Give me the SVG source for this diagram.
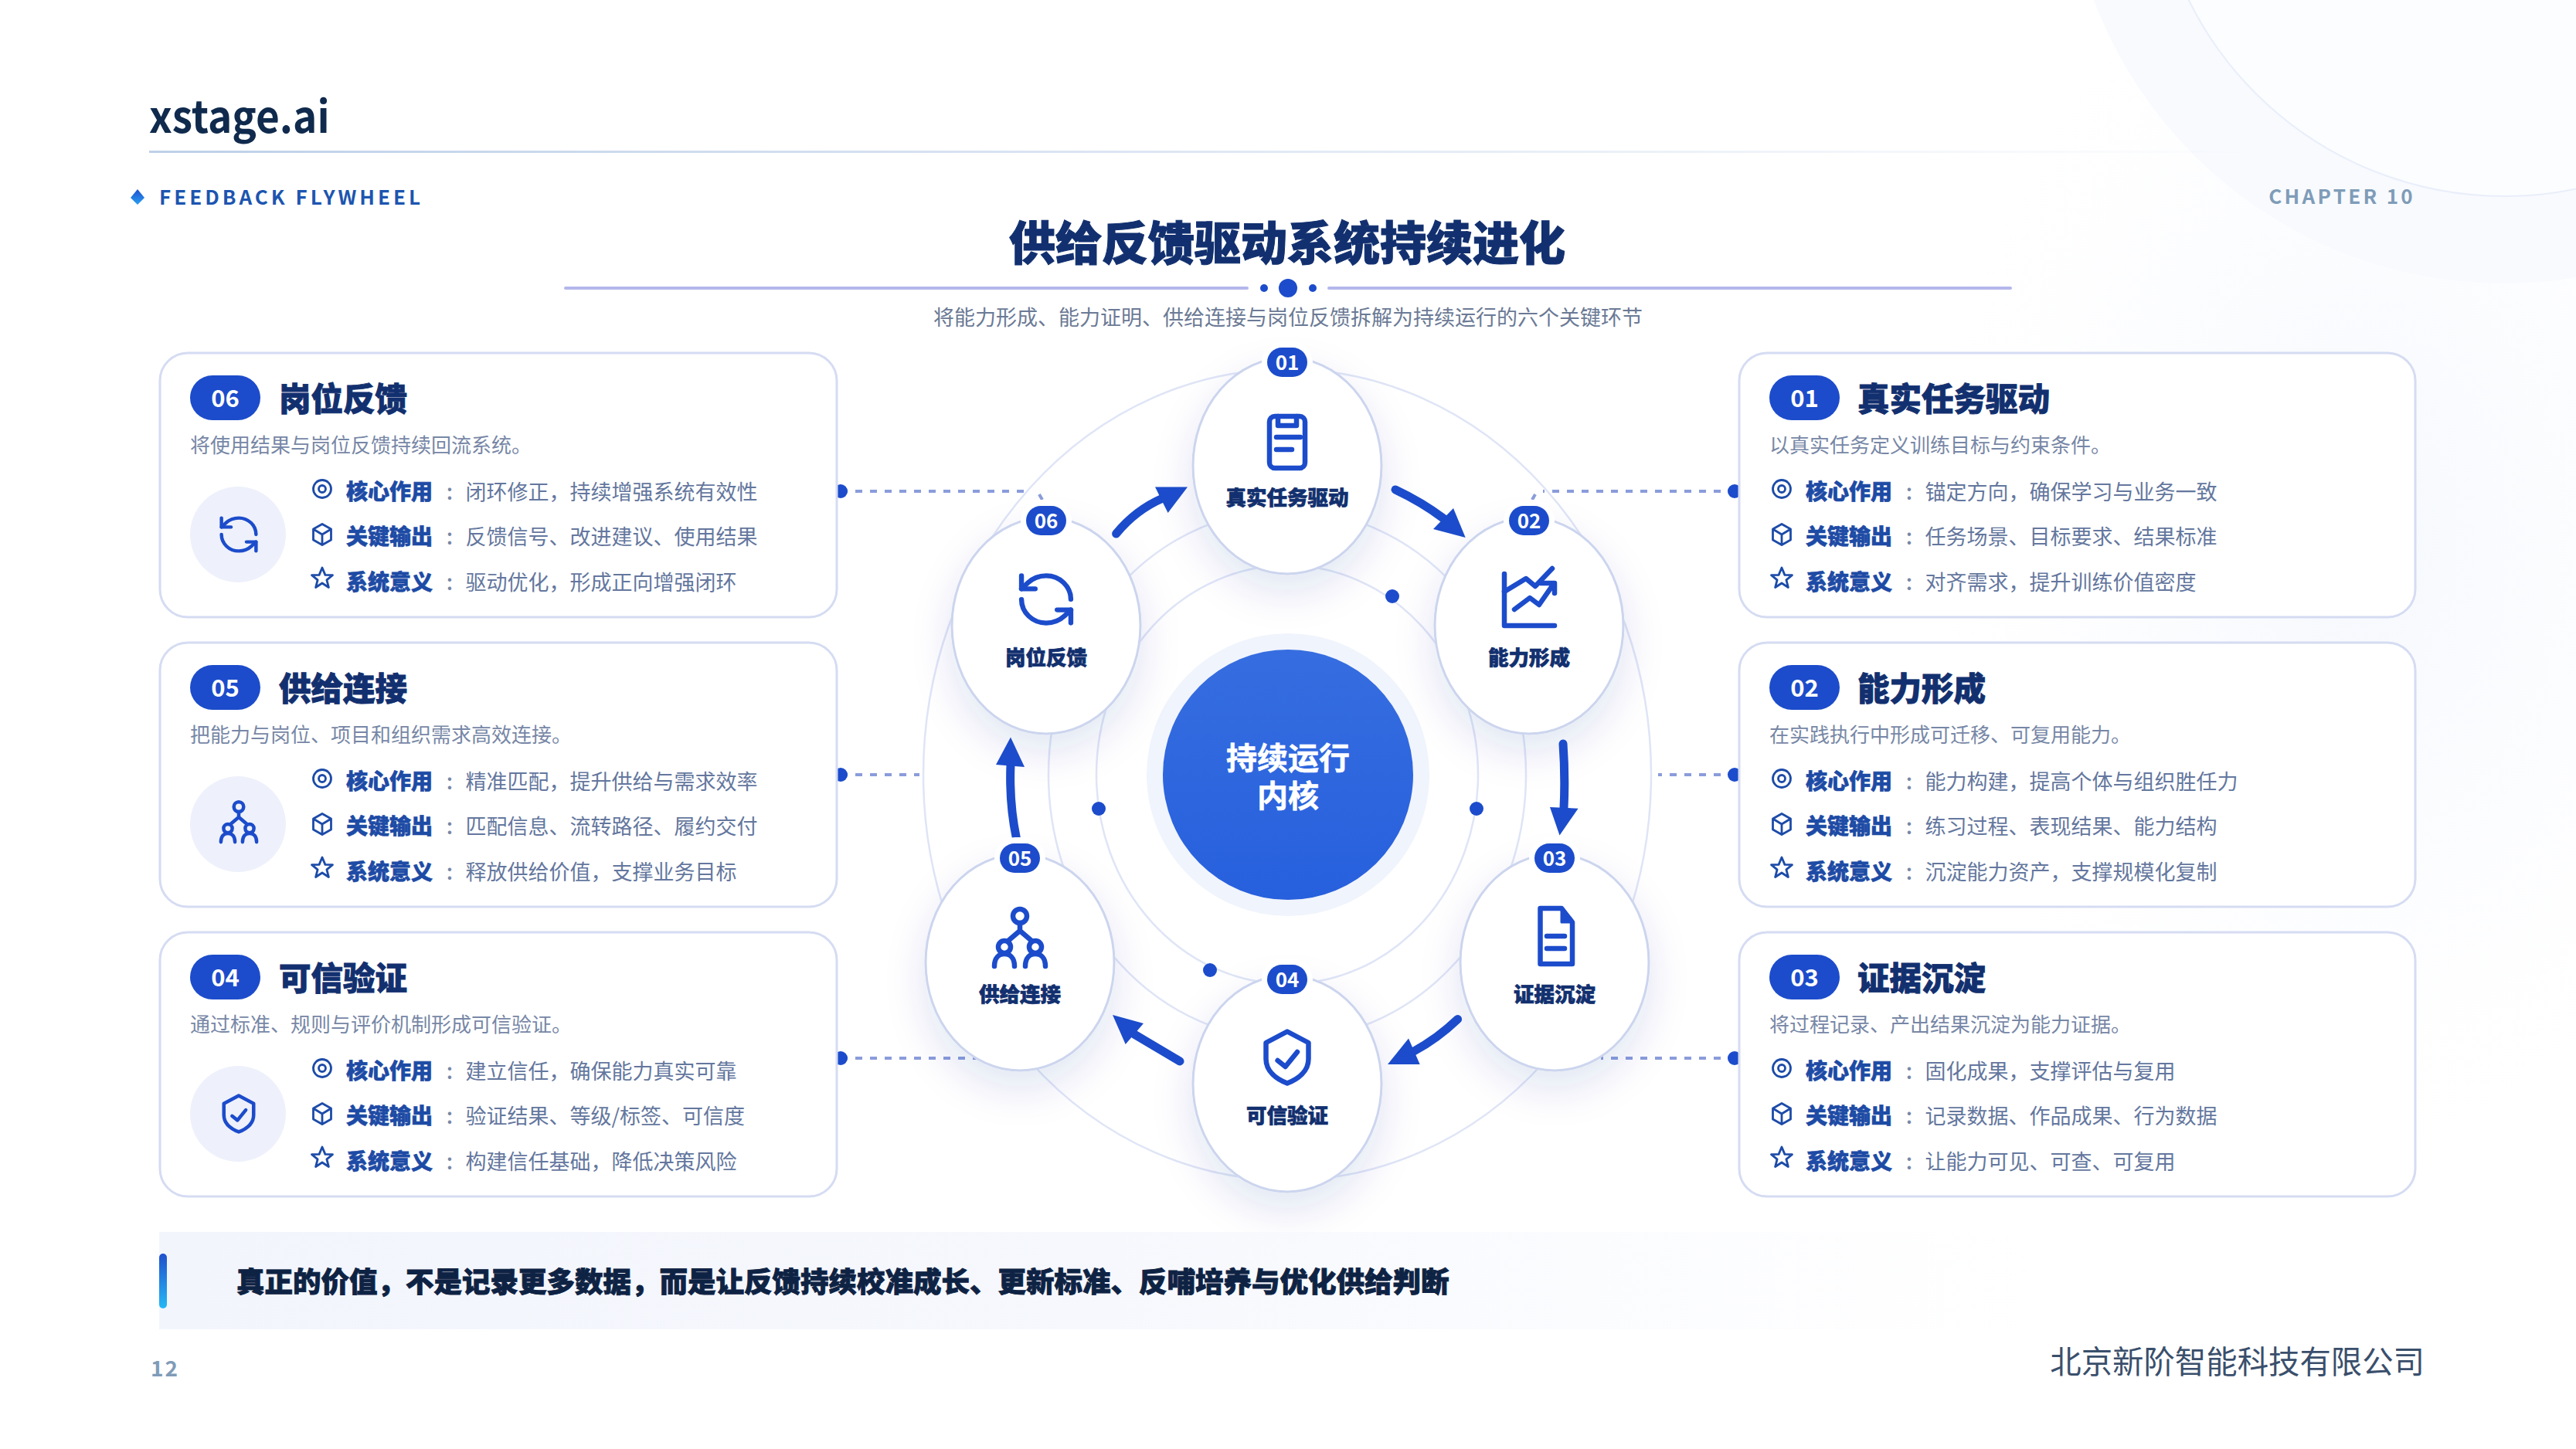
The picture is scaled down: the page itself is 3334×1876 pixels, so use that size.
<svg xmlns="http://www.w3.org/2000/svg" width="3334" height="1876" viewBox="0 0 3334 1876">
<style>
text{font-family:"Noto Sans CJK SC","Noto Sans",sans-serif}
.ct{font-size:41.5px;font-weight:900;fill:#12306f;stroke:#12306f;stroke-width:.9}
.cb{font-size:31px;font-weight:700;fill:#fff;text-anchor:middle}
.cd{font-size:26px;fill:#7787a6}
.rl{font-size:28px;font-weight:900;fill:#1d4ba5;stroke:#1d4ba5;stroke-width:.6}
.rc{font-size:28px;font-weight:500;fill:#7787a6;text-anchor:middle}
.rv{font-size:27px;fill:#64779e}
.nl{font-size:26.5px;font-weight:900;fill:#12306f;stroke:#12306f;stroke-width:.7;text-anchor:middle}
.nb{font-size:26px;font-weight:700;fill:#fff;text-anchor:middle}
.card{fill:#fff;stroke:#d5dcf2;stroke-width:3}
.pill{fill:#1c4ccb}
.halo{fill:#fff}
.node{fill:#fff;stroke:#ccd5ee;stroke-width:3}
.ring{fill:none;stroke:#dfe5f6;stroke-width:2.5}
.dash{fill:none;stroke:#8a9cdb;stroke-width:4;stroke-dasharray:9 10}
.dot{fill:#1c4ccb}
.ic{fill:none;stroke:#1c4ccb;stroke-width:6.5;stroke-linecap:round;stroke-linejoin:round}
.ri{fill:none;stroke:#1c4ba8;stroke-width:2.8;stroke-linejoin:round}
.arr{fill:none;stroke:#1c4ccb;stroke-width:11;stroke-linecap:round}
.head{fill:#1c4ccb}
.ib{fill:#eef1fb}
</style>
<defs>
<linearGradient id="gRule" x1="0" x2="1" y1="0" y2="0"><stop offset="0" stop-color="#bed0e8"/><stop offset="1" stop-color="#bed0e8" stop-opacity="0"/></linearGradient>
<linearGradient id="gDia" x1="0" x2="0" y1="0" y2="1"><stop offset="0" stop-color="#1c4fd0"/><stop offset="1" stop-color="#2aa0f2"/></linearGradient>
<linearGradient id="gBan" x1="0" x2="1" y1="0" y2="0"><stop offset="0" stop-color="#f2f5fc"/><stop offset=".5" stop-color="#f6f8fd"/><stop offset="1" stop-color="#f8fafe" stop-opacity="0"/></linearGradient>
<linearGradient id="gBar" x1="0" x2="0" y1="0" y2="1"><stop offset="0" stop-color="#2150cc"/><stop offset="1" stop-color="#25b8f5"/></linearGradient>
<linearGradient id="gCore" x1="0" x2="0" y1="0" y2="1"><stop offset="0" stop-color="#366de0"/><stop offset="1" stop-color="#2760dd"/></linearGradient>
<radialGradient id="gBg" cx=".5" cy=".5" r=".5"><stop offset="0" stop-color="#f5f8fd"/><stop offset="1" stop-color="#fbfcff" stop-opacity="0"/></radialGradient>
<filter id="sh" x="-50%" y="-50%" width="200%" height="220%"><feDropShadow dx="0" dy="22" stdDeviation="26" flood-color="#1c3c9b" flood-opacity=".12"/></filter>
<g id="i-target"><circle r="11.5"/><circle r="4.5"/></g>
<path id="i-cube" d="M0 -13.5L11.5 -7V7L0 13.5L-11.5 7V-7ZM-11.5 -7L0 0L11.5 -7M0 0V13.5"/>
<path id="i-star" d="M0 -14L3.9 -4.6L13.5 -4.3L5.9 1.9L8.4 11.5L0 6L-8.4 11.5L-5.9 1.9L-13.5 -4.3L-3.9 -4.6Z"/>
<g id="i-sync" class="ic"><g transform="scale(3.55 3.4) translate(-12 -12)" style="stroke-width:1.8"><path d="M21 12a9 9 0 0 0-9-9 9.75 9.75 0 0 0-6.74 2.74L3 8"/><path d="M3 3v5h5"/><path d="M3 12a9 9 0 0 0 9 9 9.75 9.75 0 0 0 6.74-2.74L21 16"/><path d="M16 16h5v5"/></g></g>
<g id="i-net" class="ic"><circle cx="0" cy="-32" r="9"/><path d="M0 -23V-13L-14 -1M0 -13L14 -1"/><circle cx="-20" cy="8" r="8"/><circle cx="20" cy="8" r="8"/><path d="M-33 33C-33 22 -27 17 -20 17S-7 22 -7 33M7 33C7 22 13 17 20 17S33 22 33 33"/></g>
<g id="i-shield" class="ic"><path d="M0 -33.5L27.5 -19V2C27.5 18 14 28 0 33.5C-14 28 -27.5 18 -27.5 2V-19Z"/><path d="M-12.4 4L-2.4 12L13 -7"/></g>
</defs>

<rect width="3334" height="1876" fill="#fff"/>
<g id="background">
<ellipse cx="3050" cy="700" rx="560" ry="800" fill="url(#gBg)"/>
<circle cx="3241" cy="-201" r="568" fill="#f8fafe"/>
<circle cx="3241" cy="-201" r="455" fill="#fcfdff" stroke="#e9eefa" stroke-width="2"/>
</g>

<g id="header">
<text transform="translate(193 172) scale(.915 1)" font-size="58" font-weight="600" fill="#0f2a4d">xstage.ai</text>
<rect x="193" y="195" width="2750" height="3" fill="url(#gRule)"/>
<path d="M178 245L187 256L178 265L169 256Z" fill="url(#gDia)"/>
<text x="206" y="265" font-size="26" font-weight="700" letter-spacing="4" fill="#1d55b0">FEEDBACK FLYWHEEL</text>
<text x="3126" y="264" text-anchor="end" font-size="26" font-weight="700" letter-spacing="3.3" fill="#7f9cb8">CHAPTER 10</text>
<text x="1666" y="337" text-anchor="middle" font-size="60" font-weight="900" fill="#12306f" stroke="#12306f" stroke-width="1">供给反馈驱动系统持续进化</text>
<rect x="730" y="371" width="886" height="4" rx="2" fill="#b3b7ec"/>
<rect x="1718" y="371" width="886" height="4" rx="2" fill="#b3b7ec"/>
<circle cx="1636" cy="373" r="5" fill="#1c4ccb"/><circle cx="1667" cy="373" r="12" fill="#1c4ccb"/><circle cx="1699" cy="373" r="5" fill="#1c4ccb"/>
<text x="1667" y="421" text-anchor="middle" font-size="27" fill="#6b7a95">将能力形成、能力证明、供给连接与岗位反馈拆解为持续运行的六个关键环节</text>
</g>

<g id="rings">
<ellipse class="ring" cx="1666" cy="1003" rx="471" ry="525"/>
<ellipse class="ring" cx="1666" cy="1003" rx="309" ry="343"/>
<ellipse class="ring" cx="1666" cy="1003" rx="247" ry="271"/>
</g>

<g id="connectors">
<path class="dash" d="M1088 636H1334M1345 640L1349 647"/>
<path class="dash" d="M1088 1003H1190"/>
<path class="dash" d="M1088 1370H1264"/>
<path class="dash" d="M2246 636H1997M1987 640L1983 647"/>
<path class="dash" d="M2246 1003H2146"/>
<path class="dash" d="M2246 1370H2072"/>
<circle class="dot" cx="1088" cy="636" r="9"/><circle class="dot" cx="1088" cy="1003" r="9"/><circle class="dot" cx="1088" cy="1370" r="9"/>
<circle class="dot" cx="2245" cy="636" r="9"/><circle class="dot" cx="2245" cy="1003" r="9"/><circle class="dot" cx="2245" cy="1370" r="9"/>
</g>

<g id="core">
<circle cx="1667" cy="1003" r="183" fill="#f0f4fc"/>
<circle cx="1667" cy="1003" r="162" fill="url(#gCore)"/>
<text text-anchor="middle" font-size="40" font-weight="700" fill="#fff" stroke="#fff" stroke-width=".6"><tspan x="1667" y="996">持续运行</tspan><tspan x="1667" y="1045">内核</tspan></text>
</g>
<g id="orbit-dots">
<circle class="dot" cx="1802" cy="772" r="9"/><circle class="dot" cx="1422" cy="1047" r="9"/><circle class="dot" cx="1911" cy="1047" r="9"/><circle class="dot" cx="1566" cy="1256" r="9"/>
</g>

<g id="node-06" transform="translate(1354 810)">
<ellipse class="node" rx="122" ry="140" filter="url(#sh)"/>
<use href="#i-sync" y="-34"/>
<text class="nl" y="51">岗位反馈</text>
</g>
<g id="node-02" transform="translate(1979 810)">
<ellipse class="node" rx="122" ry="140" filter="url(#sh)"/>
<g class="ic"><path d="M-32 -67V0H33"/><path d="M-32 -44L-4 -61L8 -51L30 -74"/><path d="M-19 -21L1 -36L13 -27L31 -53M15 -55H33V-42"/></g>
<text class="nl" y="51">能力形成</text>
</g>
<g id="node-05" transform="translate(1320 1246)">
<ellipse class="node" rx="122" ry="140" filter="url(#sh)"/>
<use href="#i-net" y="-28"/>
<text class="nl" y="51">供给连接</text>
</g>
<g id="node-03" transform="translate(2012 1246)">
<ellipse class="node" rx="122" ry="140" filter="url(#sh)"/>
<g class="ic"><path d="M-18.5 -70H9L23 -52V2H-18.5Z"/><path d="M9 -70V-52H23Z" style="fill:#1c4ccb;stroke-width:3"/><path d="M-10 -34H13M-10 -18H13"/></g>
<text class="nl" y="51">证据沉淀</text>
</g>
<g id="node-04" transform="translate(1666 1403)">
<ellipse class="node" rx="122" ry="140" filter="url(#sh)"/>
<use href="#i-shield" y="-34"/>
<text class="nl" y="51">可信验证</text>
</g>
<g id="node-01" transform="translate(1666 603)">
<ellipse class="node" rx="122" ry="140" filter="url(#sh)"/>
<g class="ic"><rect x="-23" y="-64" width="46" height="67" rx="7"/><path d="M-12 -64V-52H12V-64M-14 -37H17M-14 -21H6"/></g>
<text class="nl" y="51">真实任务驱动</text>
</g>

<g id="arrows">
<path class="arr" d="M1444.6 691Q1470 660 1505 645"/><polygon class="head" points="1537,630.5 1495,630.5 1511.6,664"/>
<path class="arr" d="M1806 634Q1840 650 1868 671"/><polygon class="head" points="1896.7,696 1855,685 1881,658"/>
<path class="arr" d="M2023 963Q2026 1005 2024 1046"/><polygon class="head" points="2018.5,1081.5 2006,1045 2042.6,1046.7"/>
<path class="arr" d="M1886.6 1319.6Q1860 1345 1830 1361"/><polygon class="head" points="1796,1378 1823,1344.4 1837.7,1378"/>
<path class="arr" d="M1527 1374Q1495 1355 1468 1339"/><polygon class="head" points="1440,1314 1480,1325 1456.7,1352"/>
<path class="arr" d="M1315.4 1085Q1306 1040 1308 990"/><polygon class="head" points="1308,954.6 1289,990 1326,993"/>
</g>

<g id="node-badges">
<g transform="translate(1666 469)"><rect class="halo" x="-33" y="-27" width="66" height="54" rx="27"/><rect class="pill" x="-26" y="-19" width="52" height="38" rx="19"/><text class="nb" y="10">01</text></g>
<g transform="translate(1979 674)"><rect class="halo" x="-33" y="-27" width="66" height="54" rx="27"/><rect class="pill" x="-26" y="-19" width="52" height="38" rx="19"/><text class="nb" y="10">02</text></g>
<g transform="translate(2012 1111)"><rect class="halo" x="-33" y="-27" width="66" height="54" rx="27"/><rect class="pill" x="-26" y="-19" width="52" height="38" rx="19"/><text class="nb" y="10">03</text></g>
<g transform="translate(1666 1268)"><rect class="halo" x="-33" y="-27" width="66" height="54" rx="27"/><rect class="pill" x="-26" y="-19" width="52" height="38" rx="19"/><text class="nb" y="10">04</text></g>
<g transform="translate(1320 1111)"><rect class="halo" x="-33" y="-27" width="66" height="54" rx="27"/><rect class="pill" x="-26" y="-19" width="52" height="38" rx="19"/><text class="nb" y="10">05</text></g>
<g transform="translate(1354 674)"><rect class="halo" x="-33" y="-27" width="66" height="54" rx="27"/><rect class="pill" x="-26" y="-19" width="52" height="38" rx="19"/><text class="nb" y="10">06</text></g>
</g>

<g id="card-06" transform="translate(207 457)">
<rect class="card" width="876" height="342" rx="36"/><rect class="pill" x="39" y="29" width="91" height="58" rx="29"/><text class="cb" x="84.5" y="70">06</text><text class="ct" x="154" y="75">岗位反馈</text><text class="cd" x="39" y="129">将使用结果与岗位反馈持续回流系统。</text>
<circle class="ib" cx="101" cy="235" r="62"/><use href="#i-sync" transform="translate(102 235) scale(.7)"/>
<use class="ri" href="#i-target" x="210" y="176"/><use class="ri" href="#i-cube" x="210" y="235"/><use class="ri" href="#i-star" x="210" y="292"/>
<text class="rl" x="241" y="190">核心作用</text><text class="rc" x="375" y="190">:</text><text class="rv" x="395.500" y="190">闭环修正，持续增强系统有效性</text>
<text class="rl" x="241" y="248">关键输出</text><text class="rc" x="375" y="248">:</text><text class="rv" x="395.500" y="248">反馈信号、改进建议、使用结果</text>
<text class="rl" x="241" y="307">系统意义</text><text class="rc" x="375" y="307">:</text><text class="rv" x="395.500" y="307">驱动优化，形成正向增强闭环</text>
</g>
<g id="card-05" transform="translate(207 832)">
<rect class="card" width="876" height="342" rx="36"/><rect class="pill" x="39" y="29" width="91" height="58" rx="29"/><text class="cb" x="84.5" y="70">05</text><text class="ct" x="154" y="75">供给连接</text><text class="cd" x="39" y="129">把能力与岗位、项目和组织需求高效连接。</text>
<circle class="ib" cx="101" cy="235" r="62"/><use href="#i-net" transform="translate(102 235) scale(.7)"/>
<use class="ri" href="#i-target" x="210" y="176"/><use class="ri" href="#i-cube" x="210" y="235"/><use class="ri" href="#i-star" x="210" y="292"/>
<text class="rl" x="241" y="190">核心作用</text><text class="rc" x="375" y="190">:</text><text class="rv" x="395.500" y="190">精准匹配，提升供给与需求效率</text>
<text class="rl" x="241" y="248">关键输出</text><text class="rc" x="375" y="248">:</text><text class="rv" x="395.500" y="248">匹配信息、流转路径、履约交付</text>
<text class="rl" x="241" y="307">系统意义</text><text class="rc" x="375" y="307">:</text><text class="rv" x="395.500" y="307">释放供给价值，支撑业务目标</text>
</g>
<g id="card-04" transform="translate(207 1207)">
<rect class="card" width="876" height="342" rx="36"/><rect class="pill" x="39" y="29" width="91" height="58" rx="29"/><text class="cb" x="84.5" y="70">04</text><text class="ct" x="154" y="75">可信验证</text><text class="cd" x="39" y="129">通过标准、规则与评价机制形成可信验证。</text>
<circle class="ib" cx="101" cy="235" r="62"/><use href="#i-shield" transform="translate(102 235) scale(.7)"/>
<use class="ri" href="#i-target" x="210" y="176"/><use class="ri" href="#i-cube" x="210" y="235"/><use class="ri" href="#i-star" x="210" y="292"/>
<text class="rl" x="241" y="190">核心作用</text><text class="rc" x="375" y="190">:</text><text class="rv" x="395.500" y="190">建立信任，确保能力真实可靠</text>
<text class="rl" x="241" y="248">关键输出</text><text class="rc" x="375" y="248">:</text><text class="rv" x="395.500" y="248">验证结果、等级/标签、可信度</text>
<text class="rl" x="241" y="307">系统意义</text><text class="rc" x="375" y="307">:</text><text class="rv" x="395.500" y="307">构建信任基础，降低决策风险</text>
</g>
<g id="card-01" transform="translate(2251 457)">
<rect class="card" width="875" height="342" rx="36"/><rect class="pill" x="39" y="29" width="91" height="58" rx="29"/><text class="cb" x="84.5" y="70">01</text><text class="ct" x="153" y="75">真实任务驱动</text><text class="cd" x="39" y="129">以真实任务定义训练目标与约束条件。</text>
<use class="ri" href="#i-target" x="55" y="176"/><use class="ri" href="#i-cube" x="55" y="235"/><use class="ri" href="#i-star" x="55" y="292"/>
<text class="rl" x="86" y="190">核心作用</text><text class="rc" x="220" y="190">:</text><text class="rv" x="240.500" y="190">锚定方向，确保学习与业务一致</text>
<text class="rl" x="86" y="248">关键输出</text><text class="rc" x="220" y="248">:</text><text class="rv" x="240.500" y="248">任务场景、目标要求、结果标准</text>
<text class="rl" x="86" y="307">系统意义</text><text class="rc" x="220" y="307">:</text><text class="rv" x="240.500" y="307">对齐需求，提升训练价值密度</text>
</g>
<g id="card-02" transform="translate(2251 832)">
<rect class="card" width="875" height="342" rx="36"/><rect class="pill" x="39" y="29" width="91" height="58" rx="29"/><text class="cb" x="84.5" y="70">02</text><text class="ct" x="153" y="75">能力形成</text><text class="cd" x="39" y="129">在实践执行中形成可迁移、可复用能力。</text>
<use class="ri" href="#i-target" x="55" y="176"/><use class="ri" href="#i-cube" x="55" y="235"/><use class="ri" href="#i-star" x="55" y="292"/>
<text class="rl" x="86" y="190">核心作用</text><text class="rc" x="220" y="190">:</text><text class="rv" x="240.500" y="190">能力构建，提高个体与组织胜任力</text>
<text class="rl" x="86" y="248">关键输出</text><text class="rc" x="220" y="248">:</text><text class="rv" x="240.500" y="248">练习过程、表现结果、能力结构</text>
<text class="rl" x="86" y="307">系统意义</text><text class="rc" x="220" y="307">:</text><text class="rv" x="240.500" y="307">沉淀能力资产，支撑规模化复制</text>
</g>
<g id="card-03" transform="translate(2251 1207)">
<rect class="card" width="875" height="342" rx="36"/><rect class="pill" x="39" y="29" width="91" height="58" rx="29"/><text class="cb" x="84.5" y="70">03</text><text class="ct" x="153" y="75">证据沉淀</text><text class="cd" x="39" y="129">将过程记录、产出结果沉淀为能力证据。</text>
<use class="ri" href="#i-target" x="55" y="176"/><use class="ri" href="#i-cube" x="55" y="235"/><use class="ri" href="#i-star" x="55" y="292"/>
<text class="rl" x="86" y="190">核心作用</text><text class="rc" x="220" y="190">:</text><text class="rv" x="240.500" y="190">固化成果，支撑评估与复用</text>
<text class="rl" x="86" y="248">关键输出</text><text class="rc" x="220" y="248">:</text><text class="rv" x="240.500" y="248">记录数据、作品成果、行为数据</text>
<text class="rl" x="86" y="307">系统意义</text><text class="rc" x="220" y="307">:</text><text class="rv" x="240.500" y="307">让能力可见、可查、可复用</text>
</g>

<g id="footer">
<rect x="206" y="1595" width="2450" height="126" fill="url(#gBan)"/>
<rect x="206" y="1623" width="10" height="71" rx="5" fill="url(#gBar)"/>
<text x="306" y="1673" font-size="36.5" font-weight="900" fill="#0e2344" stroke="#0e2344" stroke-width=".9">真正的价值，不是记录更多数据，而是让反馈持续校准成长、更新标准、反哺培养与优化供给判断</text>
<text x="195" y="1782" font-size="28" font-weight="700" letter-spacing="2" fill="#7f9cb8">12</text>
<text x="3138" y="1778" text-anchor="end" font-size="40.400" fill="#3a4f6c">北京新阶智能科技有限公司</text>
</g>
</svg>
